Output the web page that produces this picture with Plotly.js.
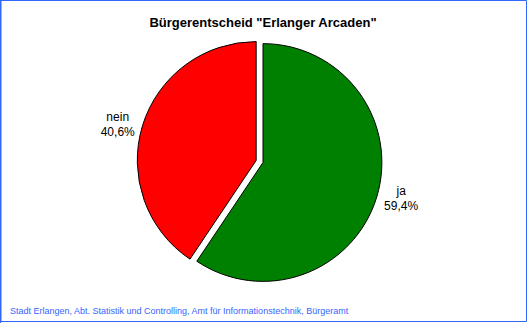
<!DOCTYPE html>
<html>
<head>
<meta charset="utf-8">
<script src="https://cdn.plot.ly/plotly-3.0.1.min.js"></script>
<style>html,body{margin:0;padding:0;background:#fff;}#chart{width:528px;height:323px;}</style>
</head>
<body>
<div id="chart"></div>
<script>
const categories = ["ja", "nein"];
const shares = [59.4, 40.6];
const sliceColors = ["#008000", "#ff0000"];
const pulls = [0, 0.06];
const chartTitle = 'Bürgerentscheid "Erlanger Arcaden"';
const sourceNote = "Stadt Erlangen, Abt. Statistik und Controlling, Amt für Informationstechnik, Bürgeramt";

const W = 528, H = 323;
const trace = {
  type: "pie",
  labels: categories,
  values: shares,
  sort: false,
  direction: "clockwise",
  rotation: 0,
  pull: pulls,
  marker: { colors: sliceColors, line: { color: "#000000", width: 1 } },
  textposition: "outside",
  texttemplate: "%{label}<br>%{percent:.1%}",
  textfont: { family: "Liberation Sans, Arial, sans-serif", size: 12, color: "#000" },
  hoverinfo: "none",
  showlegend: false,
  automargin: false,
  domain: { x: [137 / W, 389 / W], y: [34.5 / H, 286.5 / H] }
};

const layout = {
  width: W, height: H,
  margin: { l: 0, r: 0, t: 0, b: 0 },
  paper_bgcolor: "#ffffff",
  separators: ",.",
  showlegend: false,
  title: {
    text: "<b>" + chartTitle + "</b>",
    font: { family: "Liberation Sans, Arial, sans-serif", size: 13, color: "#000" },
    x: 263 / W, xanchor: "center", xref: "container",
    y: 1 - 22 / H, yanchor: "middle", yref: "container"
  },
  annotations: [{
    text: sourceNote, xref: "paper", yref: "paper",
    x: 8 / W, y: 1 - 311 / H, xanchor: "left", yanchor: "middle",
    showarrow: false,
    font: { family: "Liberation Sans, Arial, sans-serif", size: 9, color: "#3366ff" }
  }],
  shapes: [{
    type: "rect", xref: "paper", yref: "paper",
    x0: 1 / W, x1: 526.5 / W, y0: 1 - 321.5 / H, y1: 1 - 0.5 / H,
    line: { color: "#3366ff", width: 1 }, fillcolor: "rgba(0,0,0,0)"
  }, {
    type: "line", xref: "paper", yref: "paper",
    x0: 0.5 / W, x1: 0.5 / W, y0: 0, y1: 1,
    line: { color: "#3366ff", width: 1 }
  }]
};

Plotly.newPlot("chart", [trace], layout, { staticPlot: true, displayModeBar: false });
</script>
</body>
</html>
